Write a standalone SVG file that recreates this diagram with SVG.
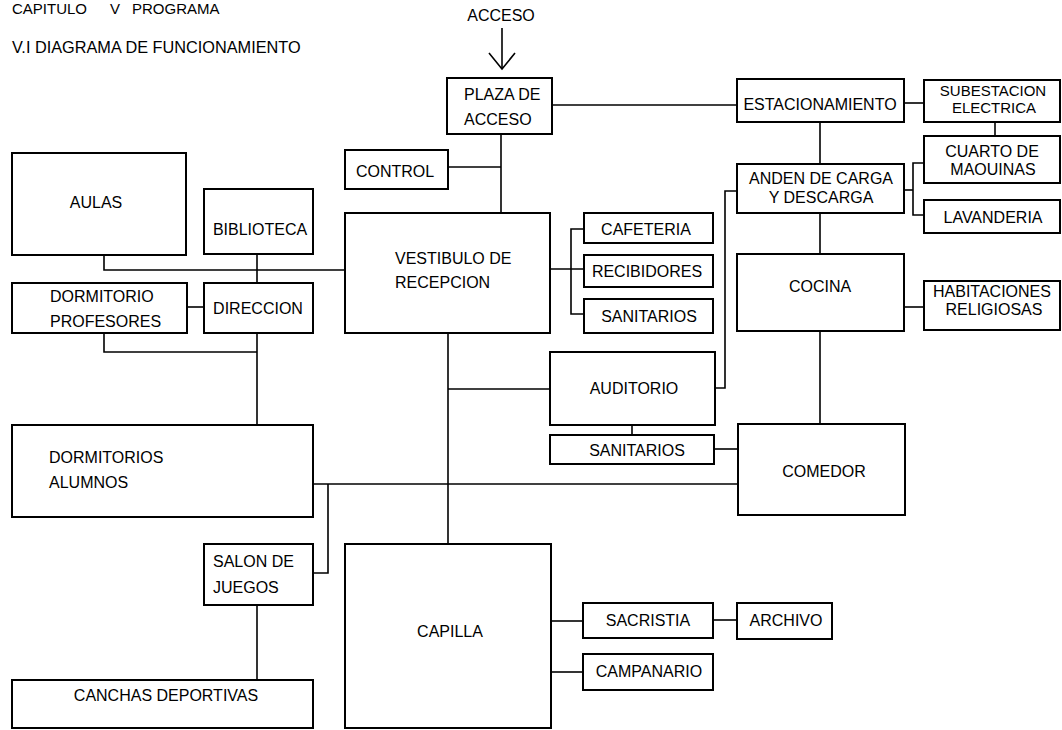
<svg xmlns="http://www.w3.org/2000/svg" width="1062" height="730" viewBox="0 0 1062 730">
<style>
rect.n{fill:#fff;stroke:#000;stroke-width:2}
text{font-family:"Liberation Sans",Arial,sans-serif;font-size:16px;fill:#000}
.m{text-anchor:middle}
.s{font-size:15px}
#connectors line,#connectors polyline{stroke:#000;stroke-width:1.6;fill:none}
</style>
<rect width="1062" height="730" fill="#fff"/>
<text y="14" style="font-size:15px"><tspan x="12">CAPITULO</tspan><tspan x="110">V</tspan><tspan x="132">PROGRAMA</tspan></text>
<text x="12" y="53" style="font-size:16.3px">V.I DIAGRAMA DE FUNCIONAMIENTO</text>
<g id="connectors">
<line x1="502" y1="28" x2="502" y2="69"/>
<polyline points="489,53 502,69 515,53"/>
<line x1="552" y1="105" x2="737" y2="105"/>
<line x1="904" y1="103" x2="924" y2="103"/>
<line x1="995" y1="122" x2="995" y2="136"/>
<line x1="820" y1="122" x2="820" y2="164"/>
<line x1="904" y1="190" x2="913" y2="190"/>
<polyline points="924,163 913,163 913,215 924,215"/>
<line x1="820" y1="213" x2="820" y2="254"/>
<line x1="904" y1="307" x2="924" y2="307"/>
<line x1="820" y1="331" x2="820" y2="424"/>
<polyline points="715,388 725,388 725,191 737,191"/>
<line x1="632" y1="425" x2="632" y2="435"/>
<line x1="714" y1="449" x2="738" y2="449"/>
<line x1="313" y1="484" x2="738" y2="484"/>
<line x1="501" y1="134" x2="501" y2="213"/>
<line x1="448" y1="167" x2="501" y2="167"/>
<line x1="550" y1="269" x2="584" y2="269"/>
<polyline points="584,229 571,229 571,314 584,314"/>
<line x1="448" y1="333" x2="448" y2="544"/>
<line x1="448" y1="389" x2="550" y2="389"/>
<line x1="551" y1="621" x2="583" y2="621"/>
<line x1="713" y1="620" x2="737" y2="620"/>
<line x1="551" y1="672" x2="583" y2="672"/>
<polyline points="104,255 104,270 345,270"/>
<line x1="257" y1="254" x2="257" y2="283"/>
<line x1="187" y1="307" x2="204" y2="307"/>
<polyline points="104,333 104,352 257,352"/>
<line x1="257" y1="333" x2="257" y2="425"/>
<polyline points="328,484 328,573 313,573"/>
<line x1="257" y1="605" x2="257" y2="680"/>
</g>
<g id="acceso"><text class="m" x="501" y="21">ACCESO</text></g>
<g id="plaza"><rect class="n" x="447" y="78" width="105" height="56"/><text x="464" y="100">PLAZA DE</text><text x="464" y="125">ACCESO</text></g>
<g id="estacionamiento"><rect class="n" x="737" y="79" width="167" height="43"/><text class="m" x="820" y="110">ESTACIONAMIENTO</text></g>
<g id="subestacion"><rect class="n" x="924" y="80" width="136" height="42"/><text class="m s" x="993" y="96">SUBESTACION</text><text class="m s" x="994" y="113">ELECTRICA</text></g>
<g id="cuarto"><rect class="n" x="924" y="136" width="136" height="47"/><text class="m" x="992" y="157">CUARTO DE</text><text class="m" x="993" y="175">MAOUINAS</text></g>
<g id="anden"><rect class="n" x="737" y="164" width="167" height="49"/><text class="m" x="821" y="184">ANDEN DE CARGA</text><text class="m" x="821" y="203">Y DESCARGA</text></g>
<g id="lavanderia"><rect class="n" x="924" y="200" width="136" height="33"/><text class="m" x="993" y="223">LAVANDERIA</text></g>
<g id="cocina"><rect class="n" x="737" y="254" width="167" height="77"/><text class="m" x="820" y="292">COCINA</text></g>
<g id="habitaciones"><rect class="n" x="924" y="281" width="136" height="49"/><text class="m" x="992" y="297">HABITACIONES</text><text class="m" x="994" y="315">RELIGIOSAS</text></g>
<g id="comedor"><rect class="n" x="738" y="424" width="167" height="91"/><text class="m" x="824" y="477">COMEDOR</text></g>
<g id="control"><rect class="n" x="345" y="150" width="103" height="39"/><text class="m" x="395" y="177">CONTROL</text></g>
<g id="vestibulo"><rect class="n" x="345" y="213" width="205" height="120"/><text x="395" y="264">VESTIBULO DE</text><text x="395" y="288">RECEPCION</text></g>
<g id="cafeteria"><rect class="n" x="584" y="213" width="129" height="30"/><text class="m" x="646" y="235">CAFETERIA</text></g>
<g id="recibidores"><rect class="n" x="584" y="255" width="129" height="32"/><text class="m" x="647" y="277">RECIBIDORES</text></g>
<g id="sanitarios1"><rect class="n" x="584" y="299" width="129" height="34"/><text class="m" x="649" y="322">SANITARIOS</text></g>
<g id="auditorio"><rect class="n" x="550" y="352" width="165" height="73"/><text class="m" x="634" y="394">AUDITORIO</text></g>
<g id="sanitarios2"><rect class="n" x="550" y="435" width="164" height="29"/><text class="m" x="637" y="456">SANITARIOS</text></g>
<g id="capilla"><rect class="n" x="345" y="544" width="206" height="184"/><text class="m" x="450" y="637">CAPILLA</text></g>
<g id="sacristia"><rect class="n" x="583" y="603" width="130" height="35"/><text class="m" x="648" y="626">SACRISTIA</text></g>
<g id="archivo"><rect class="n" x="737" y="603" width="95" height="36"/><text class="m" x="786" y="626">ARCHIVO</text></g>
<g id="campanario"><rect class="n" x="583" y="654" width="130" height="36"/><text class="m" x="649" y="677">CAMPANARIO</text></g>
<g id="aulas"><rect class="n" x="12" y="153" width="174" height="102"/><text class="m" x="96" y="208">AULAS</text></g>
<g id="biblioteca"><rect class="n" x="204" y="189" width="109" height="65"/><text class="m" x="260" y="235">BIBLIOTECA</text></g>
<g id="dormitorio-profesores"><rect class="n" x="12" y="283" width="175" height="50"/><text x="50" y="302">DORMITORIO</text><text x="50" y="327">PROFESORES</text></g>
<g id="direccion"><rect class="n" x="204" y="283" width="109" height="50"/><text class="m" x="258" y="314">DIRECCION</text></g>
<g id="dormitorios-alumnos"><rect class="n" x="12" y="425" width="301" height="92"/><text x="49" y="463">DORMITORIOS</text><text x="49" y="488">ALUMNOS</text></g>
<g id="salon"><rect class="n" x="204" y="544" width="109" height="61"/><text x="213" y="567">SALON DE</text><text x="213" y="593">JUEGOS</text></g>
<g id="canchas"><rect class="n" x="12" y="680" width="301" height="48"/><text class="m" x="166" y="701">CANCHAS DEPORTIVAS</text></g>
</svg>
